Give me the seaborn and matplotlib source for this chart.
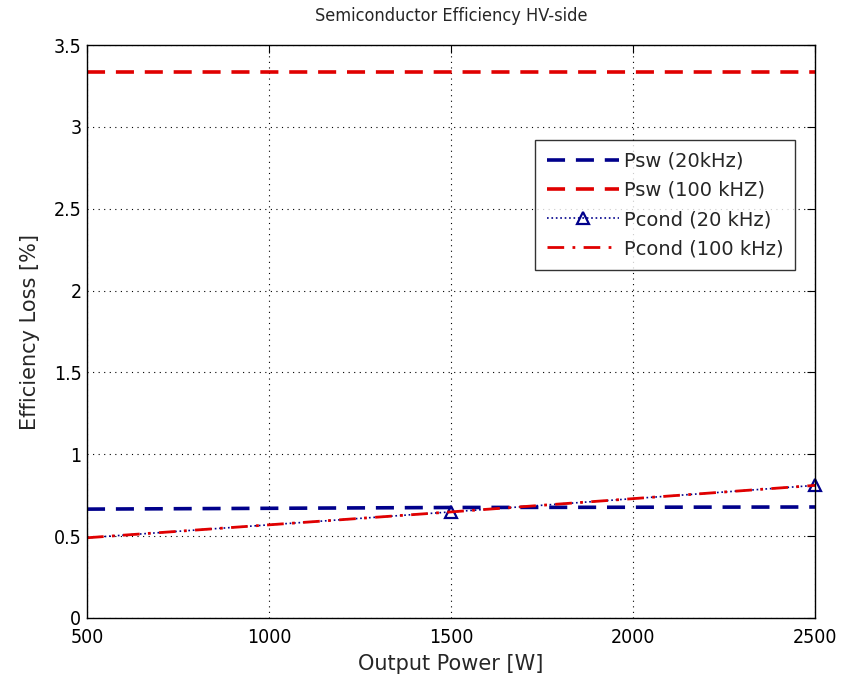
import numpy as np
import pandas as pd
import matplotlib
matplotlib.use("Agg")
import matplotlib.pyplot as plt
import seaborn as sns

# Output power levels [W]
power = [500, 1500, 2500]

# Efficiency loss [%]
psw_20k = [0.665, 0.675, 0.678]
psw_100k = [3.333, 3.333, 3.333]
pcond_20k = [0.49, 0.648, 0.81]
pcond_100k = [0.49, 0.648, 0.81]

xticks = [500, 1000, 1500, 2000, 2500]
yticks = [0, 0.5, 1, 1.5, 2, 2.5, 3, 3.5]

sns.set_style("white")
plt.rcParams["font.family"] = ["DejaVu Sans"]

fig = plt.figure(figsize=(8.43, 6.8), dpi=100)
ax = fig.add_axes([0.1032, 0.0912, 0.8636, 0.8426])

df = pd.DataFrame({"P": power, "sw20": psw_20k, "sw100": psw_100k,
                   "c20": pcond_20k, "c100": pcond_100k})

navy = "#00008B"
red = "#E00000"

sns.lineplot(data=df, x="P", y="sw20", ax=ax, color=navy, lw=2.6,
             label="Psw (20kHz)")
ax.lines[-1].set_dashes([5, 3])
sns.lineplot(data=df, x="P", y="sw100", ax=ax, color=red, lw=2.6,
             label="Psw (100 kHZ)")
ax.lines[-1].set_dashes([5, 3])
sns.lineplot(data=df, x="P", y="c20", ax=ax, color=navy, lw=1.2,
             marker="^", markersize=9, markerfacecolor="none",
             markeredgecolor=navy, markeredgewidth=1.6, markevery=[1, 2],
             label="Pcond (20 kHz)", clip_on=False)
ax.lines[-1].set_linestyle(":")
sns.lineplot(data=df, x="P", y="c100", ax=ax, color=red, lw=2.0,
             label="Pcond (100 kHz)")
ax.lines[-1].set_dashes([6, 3, 1, 3])

ax.set_xlim(500, 2500)
ax.set_ylim(0, 3.5)
ax.set_xticks(xticks)
ax.set_yticks(yticks)
ax.set_xticklabels([str(t) for t in xticks], fontstretch="condensed")
ax.set_yticklabels(["0", "0.5", "1", "1.5", "2", "2.5", "3", "3.5"],
                   fontstretch="condensed")
ax.grid(True, linestyle=(0, (1, 4)), color="black", lw=0.8)
ax.tick_params(direction="in", length=6, top=True, right=True,
               labelsize=14, colors="black")
ax.tick_params(axis="x", pad=7)
ax.tick_params(axis="y", pad=4)
for s in ax.spines.values():
    s.set_color("black")
    s.set_linewidth(1.0)

ax.set_xlabel("Output Power [W]", fontsize=15, labelpad=5)
ax.set_ylabel("Efficiency Loss [%]", fontsize=15, labelpad=10)
ax.set_title("Semiconductor Efficiency HV-side", fontsize=13,
             fontstretch="condensed", pad=17)

leg = ax.legend(loc="upper right", bbox_to_anchor=(0.9725, 0.834),
                fontsize=14, frameon=True, fancybox=False, handlelength=3.7,
                borderpad=0.6, labelspacing=0.52, handletextpad=0.25,
                borderaxespad=0)
leg.get_frame().set_edgecolor("black")
leg.get_frame().set_linewidth(1.0)

fig.savefig("out.png", dpi=100, facecolor="white")
